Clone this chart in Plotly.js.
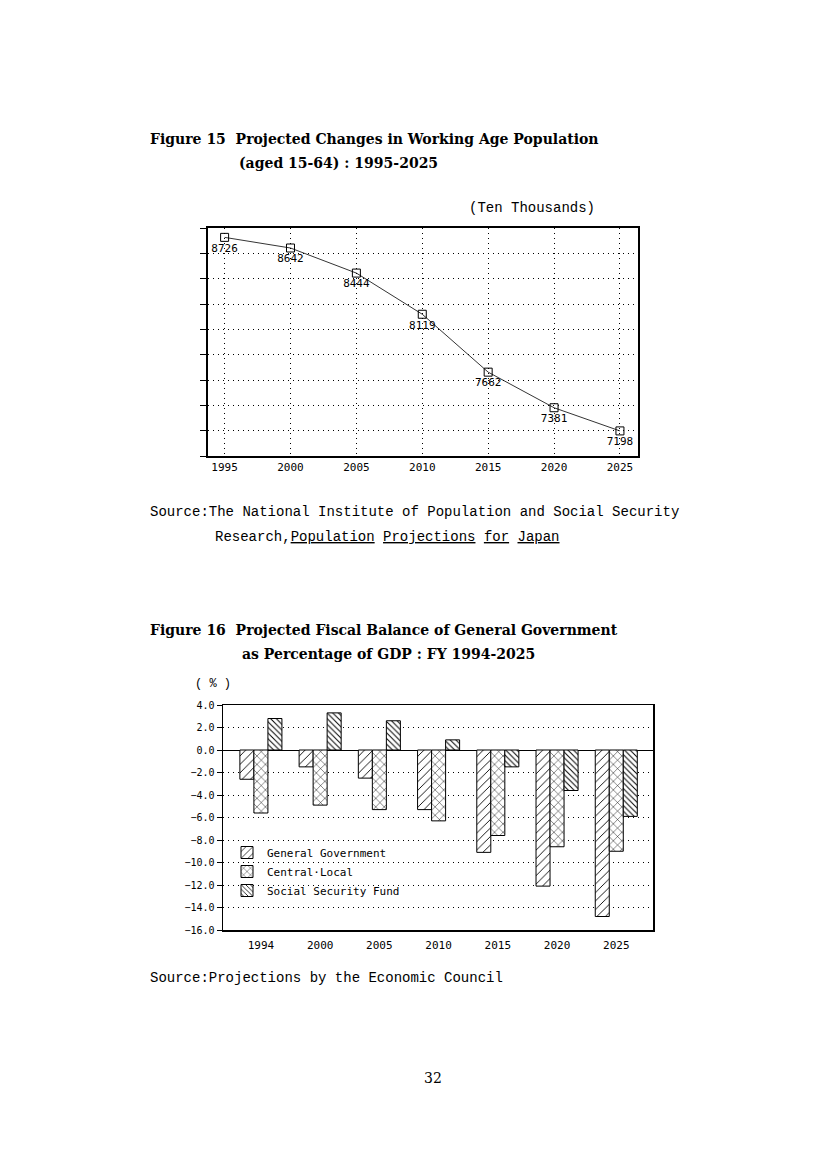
<!DOCTYPE html>
<html>
<head>
<meta charset="utf-8">
<script src="https://cdn.plot.ly/plotly-3.0.1.min.js"></script>
<style>
  html, body { margin: 0; padding: 0; background: #fff; }
  #page { width: 827px; height: 1170px; }
</style>
</head>
<body>
<div id="page"></div>
<script>
// ---- Figure 15 data ----
const popYears = [1995, 2000, 2005, 2010, 2015, 2020, 2025];
const popTickLabels = ['1995', '2000', '2005', '2010', '2015', '2020', '2025'];
const popValues = [8726, 8642, 8444, 8119, 7662, 7381, 7198];

// ---- Figure 16 data ----
const fiscalYears = ['1994', '2000', '2005', '2010', '2015', '2020', '2025'];
const generalGov = [-2.6, -1.5, -2.5, -5.3, -9.1, -12.1, -14.8];
const centralLocal = [-5.6, -4.9, -5.3, -6.3, -7.6, -8.6, -9.0];
const socialSecurity = [2.8, 3.3, 2.6, 0.9, -1.5, -3.6, -5.9];
const seriesNames = ['General Government', 'Central·Local', 'Social Security Fund'];

const W = 827, H = 1170;
const px = x => x / W;
const py = y => 1 - y / H;

const mono = 'DejaVu Sans Mono, Liberation Mono, monospace';
const serif = 'DejaVu Serif, Liberation Serif, serif';
const tmono = 'Liberation Mono, DejaVu Sans Mono, monospace';
const dots = '1px,4px';

const traces = [
  {
    x: popYears, y: popValues, text: popValues.map(String),
    type: 'scatter', mode: 'lines+markers+text',
    textposition: 'bottom center',
    textfont: {family: mono, size: 11, color: '#000'},
    line: {color: '#000', width: 0.8},
    marker: {symbol: 'square-open', size: 8, color: '#000', line: {width: 1, color: '#000'}},
    cliponaxis: false, showlegend: false, hoverinfo: 'skip',
    xaxis: 'x', yaxis: 'y'
  },
  {
    x: fiscalYears, y: generalGov, name: seriesNames[0], type: 'bar',
    legendgroup: 'a',
    marker: {color: '#fff', line: {color: '#000', width: 1},
      pattern: {shape: '/', fgcolor: '#000', bgcolor: '#fff', size: 6, solidity: 0.15}},
    xaxis: 'x2', yaxis: 'y2'
  },
  {
    x: fiscalYears, y: centralLocal, name: seriesNames[1], type: 'bar',
    legendgroup: 'b',
    marker: {color: '#fff', line: {color: '#000', width: 1},
      pattern: {shape: 'x', fgcolor: '#000', bgcolor: '#fff', size: 6, solidity: 0.15}},
    xaxis: 'x2', yaxis: 'y2'
  },
  {
    x: fiscalYears, y: socialSecurity, name: seriesNames[2], type: 'bar',
    legendgroup: 'c',
    marker: {color: '#fff', line: {color: '#000', width: 1},
      pattern: {shape: '\\', fgcolor: '#000', bgcolor: '#fff', size: 4, solidity: 0.25}},
    xaxis: 'x2', yaxis: 'y2'
  }
];

const ann = (text, x, y, font, xanchor) => ({
  text: text, x: px(x), y: py(y), xref: 'paper', yref: 'paper',
  xanchor: xanchor || 'left', yanchor: 'middle', showarrow: false,
  font: font
});

const titleFont = {family: serif, size: 14, color: '#000', weight: 'bold'};
const srcFont = {family: tmono, size: 14, color: '#000'};

const layout = {
  width: W, height: H,
  margin: {l: 0, r: 0, t: 0, b: 0},
  paper_bgcolor: '#fff', plot_bgcolor: '#fff',
  showlegend: true,
  barmode: 'group', bargap: 0.29, bargroupgap: 0,
  legend: {
    x: px(227), y: py(838), xanchor: 'left', yanchor: 'top',
    bgcolor: 'rgba(0,0,0,0)', borderwidth: 0,
    font: {family: mono, size: 11, color: '#000'},
    tracegroupgap: 6, traceorder: 'normal'
  },
  xaxis: {
    domain: [px(208), px(638)], anchor: 'y',
    range: [1993.74, 2026.37],
    tickmode: 'array', tickvals: popYears, ticktext: popTickLabels,
    tickfont: {family: mono, size: 11, color: '#000'},
    showgrid: true, griddash: dots, gridcolor: '#000', gridwidth: 1,
    showline: true, mirror: true, linecolor: '#000', linewidth: 2,
    ticks: '', zeroline: false
  },
  yaxis: {
    domain: [py(456), py(228)], anchor: 'x',
    range: [7000, 8800], tick0: 7000, dtick: 200,
    showticklabels: false, ticks: 'outside', ticklen: 6, tickcolor: '#000',
    showgrid: true, griddash: dots, gridcolor: '#000', gridwidth: 1,
    showline: true, mirror: true, linecolor: '#000', linewidth: 2,
    zeroline: false
  },
  xaxis2: {
    domain: [px(223), px(653)], anchor: 'y2', type: 'category',
    range: [-0.64, 6.62],
    tickfont: {family: mono, size: 11, color: '#000'},
    ticklabelstandoff: 4,
    showgrid: false, showline: true, mirror: true, linecolor: '#000', linewidth: 1.5,
    ticks: ''
  },
  yaxis2: {
    domain: [py(930), py(705)], anchor: 'x2',
    range: [-16, 4], tick0: -16, dtick: 2, tickformat: '.1f',
    tickfont: {family: mono, size: 10, color: '#000'},
    ticks: 'outside', ticklen: 5, tickcolor: '#000',
    showgrid: true, griddash: dots, gridcolor: '#000', gridwidth: 1,
    showline: true, mirror: true, linecolor: '#000', linewidth: 1.5,
    zeroline: true, zerolinecolor: '#000', zerolinewidth: 1
  },
  annotations: [
    ann('Figure 15  Projected Changes in Working Age Population', 148, 139, titleFont),
    ann('(aged 15-64) : 1995-2025', 237, 163, titleFont),
    ann('(Ten Thousands)', 467, 208, srcFont),
    ann('Source:The National Institute of Population and Social Security', 148, 512, srcFont),
    ann('Research,<u>Population</u> <u>Projections</u> <u>for</u> <u>Japan</u>', 213, 537, srcFont),
    ann('Figure 16  Projected Fiscal Balance of General Government', 148, 630, titleFont),
    ann('as Percentage of GDP : FY 1994-2025', 240, 654, titleFont),
    ann('( % )', 193, 684, {family: tmono, size: 12, color: '#000'}),
    ann('Source:Projections by the Economic Council', 148, 978, srcFont),
    ann('32', 433, 1078, {family: serif, size: 14, color: '#000'}, 'center')
  ]
};

Plotly.newPlot('page', traces, layout, {staticPlot: true, displayModeBar: false});
</script>
</body>
</html>
